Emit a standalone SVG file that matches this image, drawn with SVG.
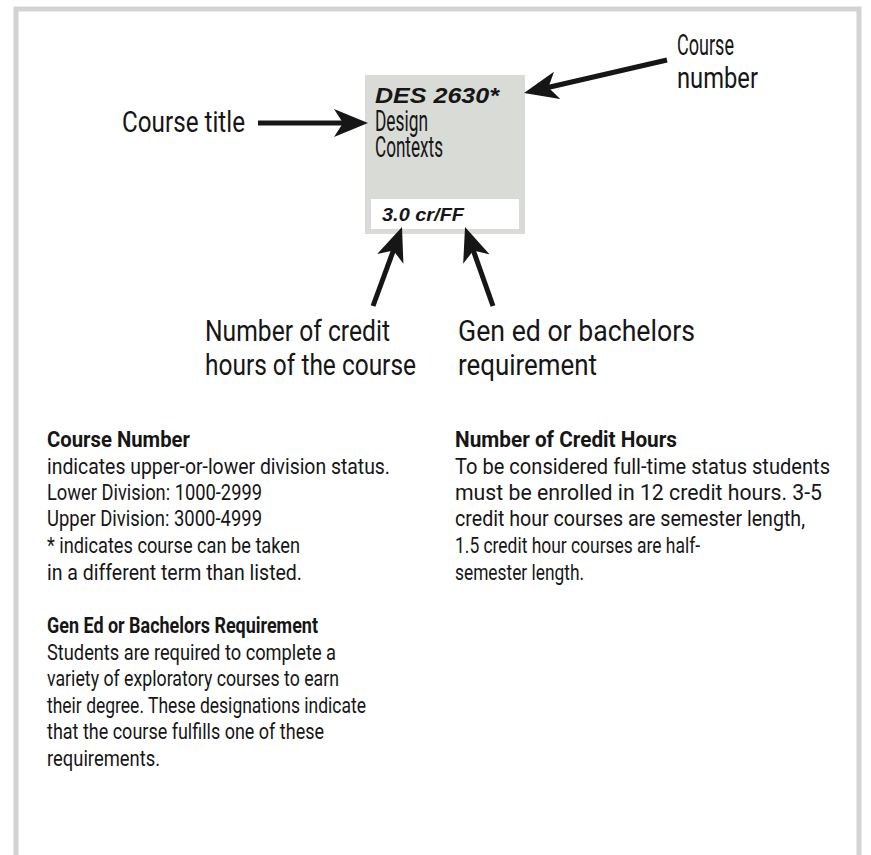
<svg xmlns="http://www.w3.org/2000/svg" width="871" height="855" viewBox="0 0 871 855">
<style>
.lbl{font-family:Roboto,"Liberation Sans",sans-serif;font-size:29px;fill:#161616}
.body{font-family:Roboto,"Liberation Sans",sans-serif;font-size:22px;fill:#161616}
.hd{font-family:Roboto,"Liberation Sans",sans-serif;font-size:22px;font-weight:bold;fill:#161616}
.bi{font-family:"Liberation Sans",Arial,sans-serif;font-weight:bold;font-style:italic;fill:#161616}
.arrow{stroke:#161616;stroke-width:5;fill:none;marker-end:url(#head)}
</style>
<defs>
<marker id="head" viewBox="0 0 34 28" refX="14" refY="14" markerWidth="34" markerHeight="28" markerUnits="userSpaceOnUse" orient="auto">
<path d="M0,0 L34,14 L0,28 L9,14 z" fill="#161616"/>
</marker>
</defs>
<rect x="16" y="9" width="843" height="900" fill="none" stroke="#d3d3d3" stroke-width="5"/>
<g id="course-box">
<rect x="365" y="75" width="160" height="159" fill="#d9dbd7"/>
<rect x="371" y="199" width="148" height="30" fill="#ffffff"/>
<text class="bi" x="375" y="103" font-size="22" textLength="124" lengthAdjust="spacingAndGlyphs">DES 2630*</text>
<text class="lbl" x="375" y="131" font-size="21" textLength="53" lengthAdjust="spacingAndGlyphs">Design</text>
<text class="lbl" x="375" y="157" font-size="21" textLength="68" lengthAdjust="spacingAndGlyphs">Contexts</text>
<text class="bi" x="382" y="221" font-size="19" textLength="82" lengthAdjust="spacingAndGlyphs">3.0 cr/FF</text>
</g>
<g id="label-course-number">
<text class="lbl" x="677" y="55" textLength="57" lengthAdjust="spacingAndGlyphs">Course</text>
<text class="lbl" x="677" y="88" textLength="81" lengthAdjust="spacingAndGlyphs">number</text>
</g>
<g id="label-course-title">
<text class="lbl" x="122" y="132" textLength="123" lengthAdjust="spacingAndGlyphs">Course title</text>
</g>
<g id="label-credit-hours">
<text class="lbl" x="205" y="341" textLength="185" lengthAdjust="spacingAndGlyphs">Number of credit</text>
<text class="lbl" x="205" y="375" textLength="211" lengthAdjust="spacingAndGlyphs">hours of the course</text>
</g>
<g id="label-gen-ed">
<text class="lbl" x="458" y="341" textLength="237" lengthAdjust="spacingAndGlyphs">Gen ed or bachelors</text>
<text class="lbl" x="458" y="375" textLength="139" lengthAdjust="spacingAndGlyphs">requirement</text>
</g>
<g id="connectors">
<line class="arrow" x1="258" y1="123" x2="348" y2="123"/>
<line class="arrow" x1="667" y1="60" x2="543.5" y2="88.5"/>
<line class="arrow" x1="373" y1="306" x2="395.1" y2="245.8"/>
<line class="arrow" x1="493" y1="306" x2="471.7" y2="245.9"/>
</g>
<g id="text-course-number">
<text class="hd" x="47" y="447" textLength="143" lengthAdjust="spacingAndGlyphs">Course Number</text>
<text class="body" x="47" y="474" textLength="343" lengthAdjust="spacingAndGlyphs">indicates upper-or-lower division status.</text>
<text class="body" x="47" y="500" textLength="215" lengthAdjust="spacingAndGlyphs">Lower Division: 1000-2999</text>
<text class="body" x="47" y="526" textLength="215" lengthAdjust="spacingAndGlyphs">Upper Division: 3000-4999</text>
<text class="body" x="47" y="553" textLength="253" lengthAdjust="spacingAndGlyphs">* indicates course can be taken</text>
<text class="body" x="47" y="580" textLength="255" lengthAdjust="spacingAndGlyphs">in a different term than listed.</text>
</g>
<g id="text-gen-ed">
<text class="hd" x="47" y="633" textLength="271" lengthAdjust="spacingAndGlyphs">Gen Ed or Bachelors Requirement</text>
<text class="body" x="47" y="660" textLength="289" lengthAdjust="spacingAndGlyphs">Students are required to complete a</text>
<text class="body" x="47" y="686" textLength="292" lengthAdjust="spacingAndGlyphs">variety of exploratory courses to earn</text>
<text class="body" x="47" y="713" textLength="319" lengthAdjust="spacingAndGlyphs">their degree. These designations indicate</text>
<text class="body" x="47" y="739" textLength="277" lengthAdjust="spacingAndGlyphs">that the course fulfills one of these</text>
<text class="body" x="47" y="766" textLength="113" lengthAdjust="spacingAndGlyphs">requirements.</text>
</g>
<g id="text-credit-hours">
<text class="hd" x="455" y="447" textLength="222" lengthAdjust="spacingAndGlyphs">Number of Credit Hours</text>
<text class="body" x="455" y="474" textLength="375" lengthAdjust="spacingAndGlyphs">To be considered full-time status students</text>
<text class="body" x="455" y="500" textLength="367" lengthAdjust="spacingAndGlyphs">must be enrolled in 12 credit hours. 3-5</text>
<text class="body" x="455" y="526" textLength="350" lengthAdjust="spacingAndGlyphs">credit hour courses are semester length,</text>
<text class="body" x="455" y="553" textLength="245" lengthAdjust="spacingAndGlyphs">1.5 credit hour courses are half-</text>
<text class="body" x="455" y="580" textLength="129" lengthAdjust="spacingAndGlyphs">semester length.</text>
</g>
</svg>
